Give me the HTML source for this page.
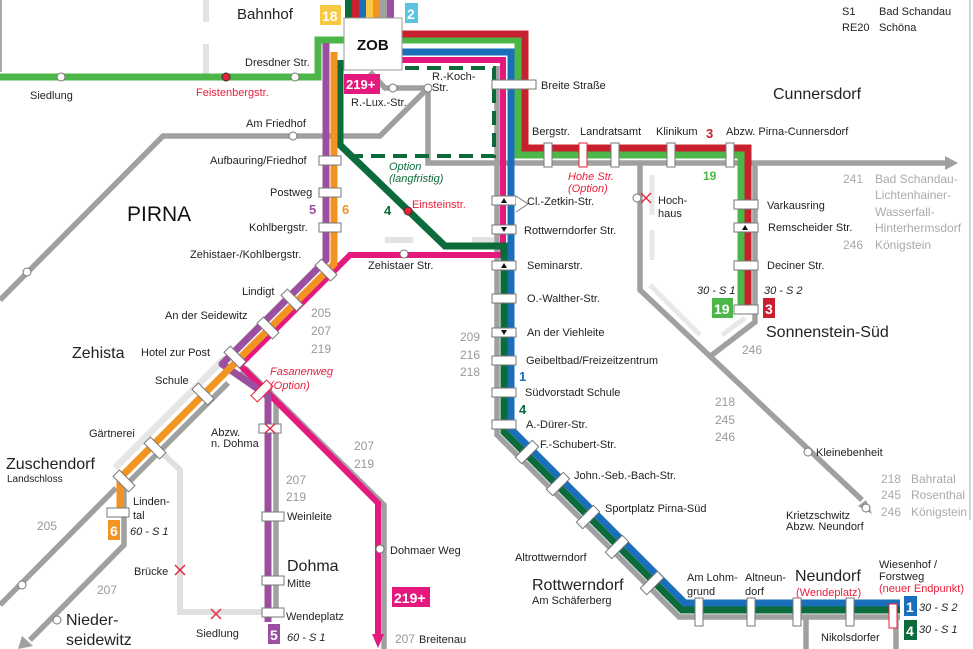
<!DOCTYPE html>
<html><head><meta charset="utf-8"><style>
html,body{margin:0;padding:0;background:#fff;}
svg{display:block;font-family:"Liberation Sans",sans-serif;}
.t{font-size:11px;fill:#222;}
.g{font-size:12px;fill:#999;}
.lg{font-size:12px;fill:#aaa;}
.r{font-size:11px;fill:#e8203a;}
.big{font-size:16px;fill:#222;}
.it{font-style:italic;}
.st{fill:#fff;stroke:#777;stroke-width:1;}
</style></head><body>
<svg width="973" height="649" viewBox="0 0 973 649" xmlns="http://www.w3.org/2000/svg">
<line x1="970" y1="0" x2="970" y2="520" stroke="#aaa" stroke-width="1"/>
<line x1="1" y1="0" x2="1" y2="72" stroke="#aaa" stroke-width="2"/>
<line x1="206" y1="0" x2="206" y2="22" stroke="#e3e3e3" stroke-width="6"/>
<line x1="206" y1="44" x2="206" y2="74" stroke="#e3e3e3" stroke-width="6"/>

<polyline points="157,448 180,470 180,612 270,612" fill="none" stroke="#e0e0e0" stroke-width="6"/>
<polyline points="225,358 115,468" fill="none" stroke="#e6e6e6" stroke-width="7"/>
<rect x="385" y="237" width="28" height="6" fill="#e3e3e3"/>
<rect x="472" y="237" width="22" height="6" fill="#e3e3e3"/>
<line x1="652" y1="175" x2="652" y2="215" stroke="#e8e8e8" stroke-width="5"/>
<line x1="652" y1="230" x2="652" y2="260" stroke="#e8e8e8" stroke-width="5"/>
<line x1="650" y1="285" x2="700" y2="335" stroke="#e8e8e8" stroke-width="5"/>
<line x1="722" y1="335" x2="745" y2="318" stroke="#e8e8e8" stroke-width="5"/>

<g fill="none" stroke="#a0a0a0" stroke-width="5.5">
<polyline points="0,300 163,136 380,136 428,88"/>
<polyline points="370,72 385,88 428,88 428,163 497,163"/>
<polyline points="497,163 945,163"/>
<polyline points="640,163 640,290 862,500"/>
<polyline points="712,355 755,322 755,163"/>
<polyline points="245,368 384,505 384,649"/>
<polyline points="240,372 276,400 276,612"/>
<polyline points="228,383 124,487 124,545 30,640"/>
<polyline points="116,488 0,605"/>
<polyline points="497,66 497,434.9 679.1,617 900,617"/>
<polyline points="806,617 806,649"/>
<polyline points="896,617 896,649"/>
</g>
<polygon points="945,156 958,163 945,170" fill="#a0a0a0"/>
<polygon points="858,506 872,514 866,500" fill="#a0a0a0"/>
<polygon points="22,636 18,649 33,646" fill="#a0a0a0"/>

<polyline points="405,68 494,68 494,156 355,156" fill="none" stroke="#0b6b3a" stroke-width="4" stroke-dasharray="14,8"/>

<polyline points="0,77 318,77 318,40 518,40 518,155 741,155 741,310" fill="none" stroke="#4cb748" stroke-width="7"/>
<polyline points="395,34 525,34 525,148 748,148 748,310" fill="none" stroke="#c8202f" stroke-width="7"/>
<polyline points="400,52 511,52 511,429.1 684.9,603 900,603" fill="none" stroke="#1a6fba" stroke-width="7"/>
<polyline points="400,60 503,60 503,255 350,255 240,365 378,503 378,638" fill="none" stroke="#e5197d" stroke-width="6"/>
<polygon points="372,634 384,634 378,648" fill="#e5197d"/>
<polyline points="340,60 340,145 445,246 504,246 504,432 682,610 900,610" fill="none" stroke="#0b6b3a" stroke-width="7"/>
<polyline points="326,43 326,260 222,364 268,396 268,622" fill="none" stroke="#9b4f9e" stroke-width="7" stroke-linejoin="round"/>
<polyline points="334,52 334,264 120,478 120,515" fill="none" stroke="#f39322" stroke-width="7"/>

<rect x="345" y="0" width="7" height="18" fill="#0b6b3a"/>
<rect x="352" y="0" width="7" height="18" fill="#c8202f"/>
<rect x="359" y="0" width="7" height="18" fill="#1a6fba"/>
<rect x="366" y="0" width="7" height="18" fill="#f7c842"/>
<rect x="373" y="0" width="7" height="18" fill="#f39322"/>
<rect x="380" y="0" width="7" height="18" fill="#a0a0a0"/>
<rect x="387" y="0" width="7" height="18" fill="#9b4f9e"/>
<rect x="344" y="18" width="58" height="52" fill="#fff" stroke="#999" stroke-width="1"/>
<text x="357" y="50" font-size="15" font-weight="bold" fill="#111">ZOB</text>
<rect x="320" y="5" width="21" height="20" fill="#f7c842"/>
<text x="322" y="21" font-size="14" font-weight="bold" fill="#fff">18</text>
<rect x="405" y="3" width="13" height="20" fill="#5bc5e0"/>
<text x="407" y="19" font-size="14" font-weight="bold" fill="#fff">2</text>
<rect x="344" y="74" width="36" height="20" fill="#e5197d"/>
<text x="346" y="89" font-size="13" font-weight="bold" fill="#fff">219+</text>

<g class="st">
<rect x="319" y="156" width="22" height="9"/>
<rect x="319" y="188" width="22" height="9"/>
<rect x="319" y="223" width="22" height="9"/>
<rect x="107" y="508" width="22" height="9"/>
<rect x="259" y="424" width="22" height="9"/>
<rect x="262" y="512" width="22" height="9"/>
<rect x="262" y="576" width="22" height="9"/>
<rect x="262" y="608" width="22" height="9"/>
<rect x="492" y="80" width="44" height="9"/>
<rect x="492" y="196" width="24" height="9"/>
<rect x="492" y="225" width="24" height="9"/>
<rect x="492" y="261" width="24" height="9"/>
<rect x="492" y="294" width="24" height="9"/>
<rect x="492" y="328" width="24" height="9"/>
<rect x="492" y="356" width="24" height="9"/>
<rect x="492" y="388" width="24" height="9"/>
<rect x="492" y="420" width="24" height="9"/>
<rect x="544" y="143" width="8" height="24"/>
<rect x="611" y="143" width="8" height="24"/>
<rect x="667" y="143" width="8" height="24"/>
<rect x="726" y="143" width="8" height="24"/>
<rect x="734" y="200" width="24" height="9"/>
<rect x="734" y="223" width="24" height="9"/>
<rect x="734" y="261" width="24" height="9"/>
<rect x="734" y="305" width="24" height="9"/>
<rect x="695" y="598" width="8" height="28"/>
<rect x="747" y="598" width="8" height="28"/>
<rect x="793" y="598" width="8" height="28"/>
<rect x="846" y="598" width="8" height="28"/>
<rect transform="translate(326 270) rotate(45) translate(-11 -4.5)" width="22" height="9"/>
<rect transform="translate(292 300) rotate(45) translate(-11 -4.5)" width="22" height="9"/>
<rect transform="translate(268 328) rotate(45) translate(-11 -4.5)" width="22" height="9"/>
<rect transform="translate(235 357) rotate(45) translate(-11 -4.5)" width="22" height="9"/>
<rect transform="translate(203 394) rotate(45) translate(-11 -4.5)" width="22" height="9"/>
<rect transform="translate(155 448) rotate(45) translate(-11 -4.5)" width="22" height="9"/>
<rect transform="translate(124 481) rotate(45) translate(-11 -4.5)" width="22" height="9"/>
<rect transform="translate(527 452) rotate(-45) translate(-12 -4.5)" width="24" height="9"/>
<rect transform="translate(558 484) rotate(-45) translate(-12 -4.5)" width="24" height="9"/>
<rect transform="translate(588 517) rotate(-45) translate(-12 -4.5)" width="24" height="9"/>
<rect transform="translate(617 547) rotate(-45) translate(-12 -4.5)" width="24" height="9"/>
<rect transform="translate(652 583) rotate(-45) translate(-12 -4.5)" width="24" height="9"/>
</g>
<rect x="579" y="143" width="8" height="24" fill="#fff" stroke="#e8203a"/>
<rect x="889" y="604" width="8" height="24" fill="#fff" stroke="#e8203a"/>
<rect transform="translate(262 391) rotate(-45) translate(-11 -4.5)" width="22" height="9" fill="#fff" stroke="#e8203a"/>
<g fill="#111">
<polygon points="501,203 507,203 504,198"/>
<polygon points="501,227 507,227 504,232"/>
<polygon points="501,268 507,268 504,263"/>
<polygon points="501,330 507,330 504,335"/>
<polygon points="742,230 748,230 745,225"/>
</g>
<polyline points="516,196 528,204 516,212" fill="#fff" stroke="#777"/>
<g fill="#fff" stroke="#777" stroke-width="1">
<circle cx="61" cy="77" r="4"/><circle cx="295" cy="77" r="4"/><circle cx="293" cy="136" r="4"/>
<circle cx="27" cy="272" r="4"/><circle cx="428" cy="88" r="4"/><circle cx="393" cy="88" r="4"/>
<circle cx="404" cy="254" r="4"/><circle cx="637" cy="198" r="4"/><circle cx="808" cy="452" r="4"/>
<circle cx="866" cy="508" r="4"/><circle cx="380" cy="549" r="4"/><circle cx="57" cy="620" r="4"/>
<circle cx="22" cy="585" r="4"/>
</g>
<circle cx="226" cy="77" r="4" fill="#e8203a" stroke="#333"/>
<circle cx="408" cy="211" r="4" fill="#e8203a" stroke="#333"/>
<g stroke="#e8203a" stroke-width="1.3">
<line x1="641" y1="193" x2="651" y2="203"/><line x1="651" y1="193" x2="641" y2="203"/>
<line x1="175" y1="565" x2="185" y2="575"/><line x1="185" y1="565" x2="175" y2="575"/>
<line x1="211" y1="609" x2="221" y2="619"/><line x1="221" y1="609" x2="211" y2="619"/>
<line x1="265" y1="424" x2="275" y2="433"/><line x1="275" y1="424" x2="265" y2="433"/>
</g>

<rect x="712" y="298" width="21" height="20" fill="#4cb748"/><text x="714" y="314" font-size="14" font-weight="bold" fill="#fff">19</text>
<rect x="763" y="298" width="12" height="20" fill="#c8202f"/><text x="765" y="314" font-size="14" font-weight="bold" fill="#fff">3</text>
<rect x="904" y="596" width="13" height="20" fill="#1a6fba"/><text x="906" y="612" font-size="14" font-weight="bold" fill="#fff">1</text>
<rect x="904" y="620" width="13" height="20" fill="#0b6b3a"/><text x="906" y="636" font-size="14" font-weight="bold" fill="#fff">4</text>
<rect x="108" y="520" width="12" height="20" fill="#f39322"/><text x="110" y="536" font-size="14" font-weight="bold" fill="#fff">6</text>
<rect x="268" y="624" width="12" height="20" fill="#9b4f9e"/><text x="270" y="640" font-size="14" font-weight="bold" fill="#fff">5</text>
<rect x="392" y="587" width="38" height="20" fill="#e5197d"/><text x="394" y="603" font-size="14" font-weight="bold" fill="#fff">219+</text>

<text x="842" y="15" class="t" font-size="12">S1</text><text x="879" y="15" class="t" font-size="12">Bad Schandau</text>
<text x="842" y="31" class="t" font-size="12">RE20</text><text x="879" y="31" class="t" font-size="12">Schöna</text>
<text x="237" y="19" font-size="15" fill="#222">Bahnhof</text>
<text x="30" y="99" class="t">Siedlung</text>
<text x="196" y="96" class="r">Feistenbergstr.</text>
<text x="245" y="66" class="t">Dresdner Str.</text>
<text x="246" y="127" class="t">Am Friedhof</text>
<text x="210" y="164" class="t">Aufbauring/Friedhof</text>
<text x="270" y="196" class="t">Postweg</text>
<text x="127" y="221" font-size="21" fill="#111">PIRNA</text>
<text x="309" y="214" font-size="13" font-weight="bold" fill="#9b4f9e">5</text>
<text x="342" y="214" font-size="13" font-weight="bold" fill="#f39322">6</text>
<text x="249" y="231" class="t">Kohlbergstr.</text>
<text x="190" y="258" class="t">Zehistaer-/Kohlbergstr.</text>
<text x="242" y="295" class="t">Lindigt</text>
<text x="165" y="319" class="t">An der Seidewitz</text>
<text x="311" y="317" class="g">205</text><text x="311" y="335" class="g">207</text><text x="311" y="353" class="g">219</text>
<text x="72" y="358" class="big">Zehista</text>
<text x="141" y="356" class="t">Hotel zur Post</text>
<text x="155" y="384" class="t">Schule</text>
<text x="270" y="375" class="r it">Fasanenweg</text><text x="270" y="389" class="r it">(Option)</text>
<text x="89" y="437" class="t">Gärtnerei</text>
<text x="211" y="436" class="t">Abzw.</text><text x="211" y="447" class="t">n. Dohma</text>
<text x="6" y="469" class="big">Zuschendorf</text><text x="7" y="482" font-size="10" fill="#222">Landschloss</text>
<text x="133" y="505" class="t">Linden-</text><text x="133" y="519" class="t">tal</text>
<text x="130" y="535" class="t it">60 - S 1</text>
<text x="37" y="530" class="g">205</text>
<text x="286" y="484" class="g">207</text><text x="286" y="501" class="g">219</text>
<text x="354" y="450" class="g">207</text><text x="354" y="468" class="g">219</text>
<text x="287" y="520" class="t">Weinleite</text>
<text x="134" y="575" class="t">Brücke</text>
<text x="287" y="571" class="big">Dohma</text><text x="287" y="587" class="t">Mitte</text>
<text x="97" y="594" class="g">207</text>
<text x="66" y="625" class="big">Nieder-</text><text x="66" y="645" class="big">seidewitz</text>
<text x="196" y="637" class="t">Siedlung</text>
<text x="286" y="620" class="t">Wendeplatz</text>
<text x="287" y="641" class="t it">60 - S 1</text>
<text x="390" y="554" class="t">Dohmaer Weg</text>
<text x="395" y="643" class="g">207</text><text x="419" y="643" class="t" fill="#888">Breitenau</text>
<text x="541" y="89" class="t">Breite Straße</text>
<text x="432" y="80" class="t">R.-Koch-</text><text x="432" y="91" class="t">Str.</text>
<text x="351" y="106" class="t">R.-Lux.-Str.</text>
<text x="532" y="135" class="t">Bergstr.</text>
<text x="580" y="135" class="t">Landratsamt</text>
<text x="656" y="135" class="t">Klinikum</text>
<text x="706" y="138" font-size="13" font-weight="bold" fill="#c8202f">3</text>
<text x="726" y="135" class="t">Abzw. Pirna-Cunnersdorf</text>
<text x="773" y="99" class="big">Cunnersdorf</text>
<text x="568" y="180" class="r it">Hohe Str.</text><text x="568" y="192" class="r it">(Option)</text>
<text x="703" y="180" font-size="12" font-weight="bold" fill="#4cb748">19</text>
<text x="389" y="170" font-size="11" fill="#0b6b3a" class="it">Option</text>
<text x="389" y="182" font-size="11" fill="#0b6b3a" class="it">(langfristig)</text>
<text x="384" y="215" font-size="13" font-weight="bold" fill="#0b6b3a">4</text>
<text x="412" y="208" class="r">Einsteinstr.</text>
<text x="527" y="205" class="t">Cl.-Zetkin-Str.</text>
<text x="524" y="234" class="t">Rottwerndorfer Str.</text>
<text x="527" y="269" class="t">Seminarstr.</text>
<text x="527" y="302" class="t">O.-Walther-Str.</text>
<text x="527" y="336" class="t">An der Viehleite</text>
<text x="526" y="364" class="t">Geibeltbad/Freizeitzentrum</text>
<text x="525" y="396" class="t">Südvorstadt Schule</text>
<text x="526" y="428" class="t">A.-Dürer-Str.</text>
<text x="460" y="341" class="g">209</text><text x="460" y="359" class="g">216</text><text x="460" y="376" class="g">218</text>
<text x="519" y="381" font-size="13" font-weight="bold" fill="#1a6fba">1</text>
<text x="519" y="414" font-size="13" font-weight="bold" fill="#0b6b3a">4</text>
<text x="368" y="269" class="t">Zehistaer Str.</text>
<text x="658" y="204" class="t">Hoch-</text><text x="658" y="217" class="t">haus</text>
<text x="843" y="183" class="lg">241</text>
<text x="875" y="183" class="lg">Bad Schandau-</text>
<text x="875" y="199" class="lg">Lichtenhainer-</text>
<text x="875" y="216" class="lg">Wasserfall-</text>
<text x="875" y="232" class="lg">Hinterhermsdorf</text>
<text x="843" y="249" class="lg">246</text><text x="875" y="249" class="lg">Königstein</text>
<text x="767" y="209" class="t">Varkausring</text>
<text x="768" y="231" class="t">Remscheider Str.</text>
<text x="767" y="269" class="t">Deciner Str.</text>
<text x="697" y="294" class="t it" font-size="10">30 - S 1</text>
<text x="764" y="294" class="t it" font-size="10">30 - S 2</text>
<text x="766" y="337" class="big">Sonnenstein-Süd</text>
<text x="742" y="354" class="g">246</text>
<text x="715" y="406" class="g">218</text><text x="715" y="424" class="g">245</text><text x="715" y="441" class="g">246</text>
<text x="816" y="456" class="t">Kleinebenheit</text>
<text x="881" y="483" class="lg">218</text><text x="911" y="483" class="lg">Bahratal</text>
<text x="881" y="499" class="lg">245</text><text x="911" y="499" class="lg">Rosenthal</text>
<text x="881" y="516" class="lg">246</text><text x="911" y="516" class="lg">Königstein</text>
<text x="786" y="519" class="t">Krietzschwitz</text><text x="786" y="530" class="t">Abzw. Neundorf</text>
<text x="540" y="448" class="t">F.-Schubert-Str.</text>
<text x="574" y="479" class="t">John.-Seb.-Bach-Str.</text>
<text x="605" y="512" class="t">Sportplatz Pirna-Süd</text>
<text x="515" y="561" class="t">Altrottwerndorf</text>
<text x="532" y="590" class="big">Rottwerndorf</text><text x="532" y="604" class="t">Am Schäferberg</text>
<text x="687" y="581" class="t">Am Lohm-</text><text x="687" y="595" class="t">grund</text>
<text x="745" y="581" class="t">Altneun-</text><text x="745" y="595" class="t">dorf</text>
<text x="795" y="581" class="big">Neundorf</text>
<text x="796" y="596" class="r">(Wendeplatz)</text>
<text x="879" y="568" class="t">Wiesenhof /</text><text x="879" y="580" class="t">Forstweg</text>
<text x="879" y="592" class="r">(neuer Endpunkt)</text>
<text x="919" y="611" class="t it" font-size="10">30 - S 2</text>
<text x="919" y="633" class="t it" font-size="10">30 - S 1</text>
<text x="821" y="641" class="t">Nikolsdorfer</text>
</svg>
</body></html>
